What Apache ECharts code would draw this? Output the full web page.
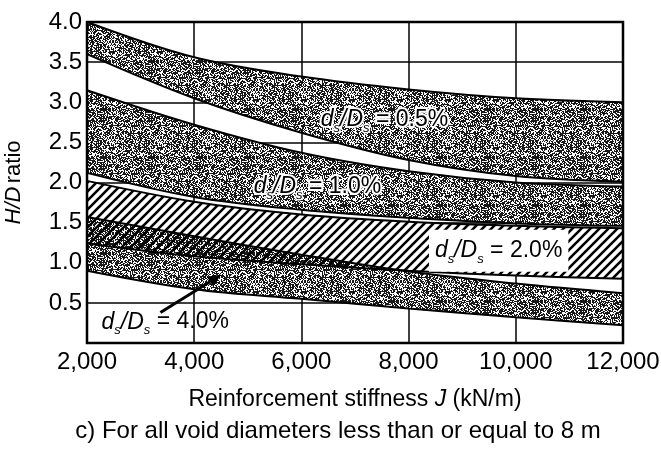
<!DOCTYPE html>
<html>
<head>
<meta charset="utf-8">
<script src="https://cdn.jsdelivr.net/npm/echarts@6/dist/echarts.min.js"></script>
<style>
	html, body { margin: 0; padding: 0; background: #fff; }
	#main { width: 661px; height: 451px; }
</style>
</head>
<body>
<div id="main"></div>
<script>
// 横轴 加筋刚度 J (kN/m)
var stiffness = [2000, 4000, 6000, 8000, 10000, 12000];
var xTickLabels = ['2,000', '4,000', '6,000', '8,000', '10,000', '12,000'];
var yTickLabels = ['', '0.5', '1.0', '1.5', '2.0', '2.5', '3.0', '3.5', '4.0'];

// 各区带上下边界 H/D
var upper05 = [4.00, 3.56, 3.32, 3.16, 3.05, 3.00];
var lower05 = [3.60, 3.05, 2.62, 2.28, 2.08, 2.01];
var upper10 = [3.15, 2.72, 2.37, 2.14, 2.00, 1.95];
var lower10 = [2.12, 1.82, 1.66, 1.56, 1.49, 1.46];
var upper20 = [2.02, 1.76, 1.60, 1.51, 1.46, 1.43];
var lower20 = [1.24, 1.08, 0.98, 0.90, 0.84, 0.80];
var upper40 = [1.57, 1.33, 1.10, 0.89, 0.74, 0.62];
var lower40 = [0.90, 0.67, 0.55, 0.43, 0.32, 0.22];

// 标注位置 [J, H/D]
var bandLabels = [
	{ text: '0.5%', at: [7550, 2.78], halo: true },
	{ text: '1.0%', at: [6300, 1.95], halo: true },
	{ text: '2.0%', at: [9680, 1.15], boxed: true },
	{ text: '4.0%', at: [3460, 0.26] }
];
var arrowFrom = [3370, 0.38];
var arrowTo = [4500, 0.85];

var FF = '"Liberation Sans", Arial, Helvetica, sans-serif';

function makeStipple() {
	var n = 48;
	var c = document.createElement('canvas');
	c.width = n; c.height = n;
	var ctx = c.getContext('2d');
	var img = ctx.createImageData(n, n);
	for (var y = 0; y < n; y++) {
		for (var x = 0; x < n; x++) {
			var h = Math.sin(x * 12.9898 + y * 78.233) * 43758.5453;
			h = h - Math.floor(h);
			var diag = (((x - y) % 3 + 3) % 3 === 0) ? 0.12 : -0.06;
			var v = (h + diag) < 0.6 ? 25 : 255;
			var k = (y * n + x) * 4;
			img.data[k] = v; img.data[k + 1] = v; img.data[k + 2] = v; img.data[k + 3] = 255;
		}
	}
	ctx.putImageData(img, 0, 0);
	return c;
}

function makeHatch() {
	var s = 9;
	var c = document.createElement('canvas');
	c.width = s; c.height = s;
	var ctx = c.getContext('2d');
	ctx.strokeStyle = '#000';
	ctx.lineWidth = 2.6;
	ctx.beginPath();
	for (var k = -1; k <= 1; k++) {
		ctx.moveTo(k * s - 1, s + 1);
		ctx.lineTo(k * s + s + 1, -1);
	}
	ctx.stroke();
	return c;
}

var stipple = { image: makeStipple(), repeat: 'repeat' };
var hatch = { image: makeHatch(), repeat: 'repeat' };

function band(name, lower, upper, fill, showLine) {
	var diff = upper.map(function (v, i) { return +(v - lower[i]).toFixed(3); });
	var line = { color: '#000', width: 2, opacity: showLine ? 1 : 0 };
	return [
		{ name: name + '_low', type: 'line', stack: name, smooth: 0.35, symbol: 'none', silent: true,
			data: lower, lineStyle: line },
		{ name: name, type: 'line', stack: name, smooth: 0.35, symbol: 'none', silent: true,
			data: diff, lineStyle: line,
			areaStyle: { color: fill, opacity: 1 } }
	];
}

var series = [].concat(
	band('b05', lower05, upper05, stipple, true),
	band('b10', lower10, upper10, stipple, true),
	band('b20w', lower20, upper20, '#fff', false),
	band('b40', lower40, upper40, stipple, true),
	band('b20', lower20, upper20, hatch, true)
);

var chart = echarts.init(document.getElementById('main'));
var option = {
	animation: false,
	grid: { left: 87, right: 38, top: 22, bottom: 108, outerBoundsMode: 'none', containLabel: false },
	xAxis: [{
		type: 'category', boundaryGap: false,
		data: xTickLabels,
		name: '{n|Reinforcement stiffness }{i|J}{n| (kN/m)}',
		nameLocation: 'middle', nameGap: 45,
		nameTextStyle: {
			rich: {
				n: { fontSize: 23, fontFamily: FF, color: '#000' },
				i: { fontSize: 23, fontFamily: FF, color: '#000', fontStyle: 'italic' }
			}
		},
		axisLine: { show: false },
		axisTick: { show: false },
		axisLabel: { margin: 7, fontSize: 24, fontFamily: FF, color: '#000', interval: 0 },
		splitLine: { show: true, interval: 0, lineStyle: { color: '#000', width: 1.5 } }
	}, {
		// 标注定位用的数值轴 (隐藏)
		type: 'value', min: stiffness[0], max: stiffness[stiffness.length - 1], show: false
	}],
	yAxis: {
		type: 'value', min: 0, max: 4, interval: 0.5,
		name: '{i|H/D} {n|ratio}',
		nameLocation: 'middle', nameGap: 62, nameRotate: 90,
		nameTextStyle: {
			rich: {
				n: { fontSize: 22, fontFamily: FF, color: '#000' },
				i: { fontSize: 22, fontFamily: FF, color: '#000', fontStyle: 'italic' }
			}
		},
		axisLine: { show: false },
		axisTick: { show: false },
		axisLabel: {
			margin: 5, fontSize: 24, fontFamily: FF, color: '#000',
			formatter: function (v) { return yTickLabels[Math.round(v * 2)]; }
		},
		splitLine: { show: true, lineStyle: { color: '#000', width: 1.5 } }
	},
	series: series
};
chart.setOption(option);

// 边框、标注、箭头
function px(pt) {
	return chart.convertToPixel({ xAxisIndex: 1, yAxisIndex: 0 }, pt);
}
var tl = px([stiffness[0], 4]);
var br = px([stiffness[stiffness.length - 1], 0]);
var graphics = [
	{ type: 'rect', z: 100, silent: true,
		shape: { x: tl[0], y: tl[1], width: br[0] - tl[0], height: br[1] - tl[1] },
		style: { fill: 'none', stroke: '#000', lineWidth: 2.5 } }
];

function labelStyle(lb, p, color, outline) {
	var tok = function (italic, size) {
		var t = {
			fontSize: size, fontFamily: FF, fontStyle: italic ? 'italic' : 'normal',
			fill: color, lineHeight: 30, verticalAlign: size < 20 ? 'bottom' : 'middle'
		};
		if (outline) {
			t.stroke = color;
			t.lineWidth = size < 20 ? 3 : 4;
		}
		return t;
	};
	return {
		text: '{i|d}{s|s}{i|/D}{s|s}{n| = ' + lb.text + '}',
		x: p[0], y: p[1], align: 'center', verticalAlign: 'middle',
		rich: { i: tok(true, 23), s: tok(true, 13), n: tok(false, 23) }
	};
}

bandLabels.forEach(function (lb) {
	var p = px(lb.at);
	if (lb.halo) {
		// 白色描边底层
		graphics.push({ type: 'text', z: 105, silent: true, style: labelStyle(lb, p, '#fff', true) });
	}
	var style = labelStyle(lb, p, '#000', false);
	if (lb.boxed) {
		style.backgroundColor = '#fff';
		style.padding = [6, 6, 6, 6];
	}
	graphics.push({ type: 'text', z: 110, silent: true, style: style });
});

var a0 = px(arrowFrom);
var a1 = px(arrowTo);
var ang = Math.atan2(a1[1] - a0[1], a1[0] - a0[0]);
var hl = 13, hw = 6;
var bx = a1[0] - hl * Math.cos(ang), by = a1[1] - hl * Math.sin(ang);
graphics.push({ type: 'line', z: 110, silent: true,
	shape: { x1: a0[0], y1: a0[1], x2: bx, y2: by },
	style: { stroke: '#000', lineWidth: 3 } });
graphics.push({ type: 'polygon', z: 110, silent: true,
	shape: { points: [
		[a1[0], a1[1]],
		[bx + hw * Math.sin(ang), by - hw * Math.cos(ang)],
		[bx - hw * Math.sin(ang), by + hw * Math.cos(ang)]
	] },
	style: { fill: '#000' } });

graphics.push({ type: 'text', z: 110, silent: true,
	style: { text: 'c) For all void diameters less than or equal to 8 m', x: 338, y: 431,
		align: 'center', verticalAlign: 'middle', font: '24px ' + FF, fill: '#000' } });

chart.setOption({ graphic: graphics });
</script>
</body>
</html>
